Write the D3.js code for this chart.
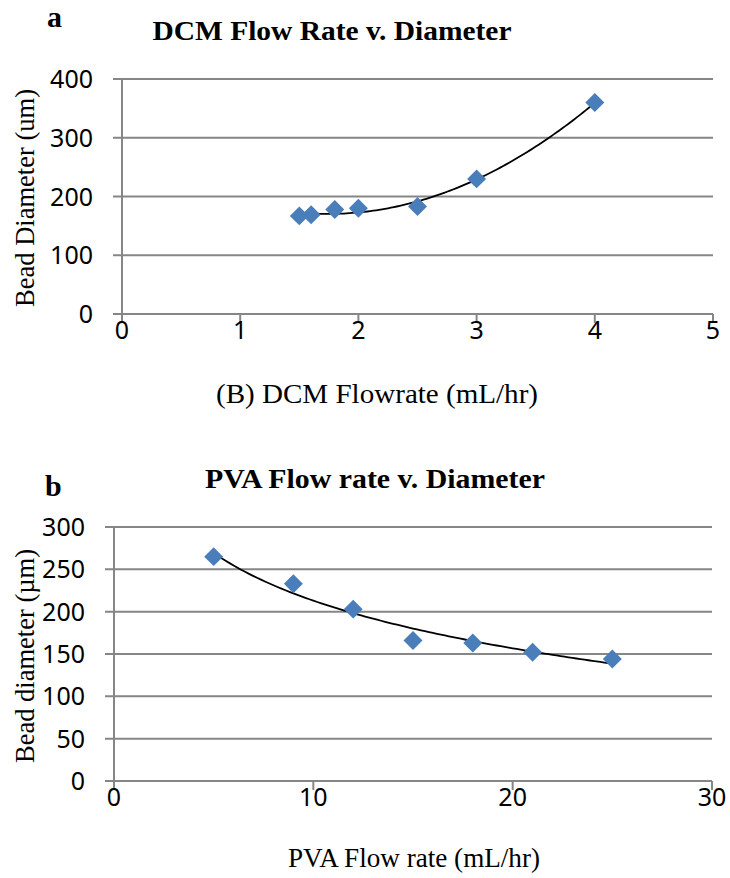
<!DOCTYPE html>
<html>
<head>
<meta charset="utf-8">
<script src="https://cdn.jsdelivr.net/npm/d3@7"></script>
<style>
  body { margin: 0; background: #fff; }
  #root { width: 730px; height: 878px; }
</style>
</head>
<body>
<div id="root"></div>
<script>
// panel a: DCM flow rate vs bead diameter
const dcmFlow = [1.5, 1.6, 1.8, 2.0, 2.5, 3.0, 4.0];
const dcmDiameter = [167, 169, 178, 180, 183, 230, 360];
const dcmXTicks = [0, 1, 2, 3, 4, 5];
const dcmYTicks = [0, 100, 200, 300, 400];

// panel b: PVA flow rate vs bead diameter
const pvaFlow = [5, 9, 12, 15, 18, 21, 25];
const pvaDiameter = [265, 233, 203, 166, 163, 152, 144];
const pvaXTicks = [0, 10, 20, 30];
const pvaYTicks = [0, 50, 100, 150, 200, 250, 300];

const gridColor = '#868686';
const markColor = '#4a7ebb';
const tickFont = '"Noto Sans", sans-serif';
const serifFont = '"Liberation Serif", "Times New Roman", serif';

const svg = d3.select('#root').append('svg')
  .attr('width', 730)
  .attr('height', 878);

drawPanel({
  letter: 'a', letterX: 47, letterY: 27,
  title: 'DCM Flow Rate v. Diameter', titleX: 332, titleY: 40, titleLen: 359,
  xLabel: '(B) DCM Flowrate (mL/hr)', xLabelX: 377, xLabelY: 403, xLabelLen: 322,
  yLabel: 'Bead Diameter (um)', yLabelX: 34, yLabelY: 198, yLabelLen: 218,
  x: d3.scaleLinear().domain([0, 5]).range([122, 713]),
  y: d3.scaleLinear().domain([0, 400]).range([314, 79]),
  xTicks: dcmXTicks, yTicks: dcmYTicks,
  xs: dcmFlow, ys: dcmDiameter,
  fit: quadFit(dcmFlow, dcmDiameter),
});

drawPanel({
  letter: 'b', letterX: 45, letterY: 496,
  title: 'PVA Flow rate v. Diameter', titleX: 375, titleY: 488, titleLen: 340,
  xLabel: 'PVA Flow rate (mL/hr)', xLabelX: 414, xLabelY: 867, xLabelLen: 252,
  yLabel: 'Bead diameter (µm)', yLabelX: 34, yLabelY: 656, yLabelLen: 214,
  x: d3.scaleLinear().domain([0, 30]).range([114, 712]),
  y: d3.scaleLinear().domain([0, 300]).range([781, 527]),
  xTicks: pvaXTicks, yTicks: pvaYTicks,
  xs: pvaFlow, ys: pvaDiameter,
  fit: logFit(pvaFlow, pvaDiameter),
});

function drawPanel(p) {
  const g = svg.append('g');
  const [x0, x1] = p.x.range();
  const [yb, yt] = p.y.range();

  // horizontal gridlines, starting with a small outward tick
  g.selectAll('.grid')
    .data(p.yTicks)
    .enter()
    .append('line')
      .attr('x1', x0 - 9)
      .attr('x2', x1)
      .attr('y1', (d) => p.y(d))
      .attr('y2', (d) => p.y(d))
      .attr('stroke', gridColor)
      .attr('stroke-width', 2);

  // vertical axis line
  g.append('line')
    .attr('x1', x0).attr('x2', x0)
    .attr('y1', yt).attr('y2', yb + 9)
    .attr('stroke', gridColor)
    .attr('stroke-width', 2);

  // x ticks below the axis
  g.selectAll('.xtick')
    .data(p.xTicks.slice(1))
    .enter()
    .append('line')
      .attr('x1', (d) => p.x(d))
      .attr('x2', (d) => p.x(d))
      .attr('y1', yb)
      .attr('y2', yb + 9)
      .attr('stroke', gridColor)
      .attr('stroke-width', 2);

  g.selectAll('.ylab')
    .data(p.yTicks)
    .enter()
    .append('text')
      .attr('x', x0 - 29)
      .attr('y', (d) => p.y(d))
      .attr('dy', '0.36em')
      .attr('text-anchor', 'end')
      .attr('font-family', tickFont)
      .attr('font-size', 25)
      .text((d) => d);

  g.selectAll('.xlab')
    .data(p.xTicks)
    .enter()
    .append('text')
      .attr('x', (d) => p.x(d))
      .attr('y', yb + 25)
      .attr('text-anchor', 'middle')
      .attr('font-family', tickFont)
      .attr('font-size', 25)
      .text((d) => d);

  // trendline
  const fx = d3.range(0, 101).map((i) => {
    const xv = d3.min(p.xs) + (d3.max(p.xs) - d3.min(p.xs)) * i / 100;
    return [xv, p.fit(xv)];
  });
  g.append('path')
    .attr('d', d3.line().x((d) => p.x(d[0])).y((d) => p.y(d[1]))(fx))
    .attr('fill', 'none')
    .attr('stroke', '#000')
    .attr('stroke-width', 1.8);

  // diamond markers
  const diamond = d3.symbol().type(d3.symbolSquare).size(180);
  g.selectAll('.pt')
    .data(p.xs.map((xv, i) => [xv, p.ys[i]]))
    .enter()
    .append('path')
      .attr('d', diamond)
      .attr('transform', (d) => 'translate(' + p.x(d[0]) + ',' + p.y(d[1]) + ') rotate(45)')
      .attr('fill', markColor);

  // texts
  g.append('text')
    .attr('x', p.letterX).attr('y', p.letterY)
    .attr('font-family', serifFont)
    .attr('font-weight', 'bold')
    .attr('font-size', 30)
    .text(p.letter);

  g.append('text')
    .attr('x', p.titleX - p.titleLen / 2).attr('y', p.titleY)
    .attr('font-family', serifFont)
    .attr('font-weight', 'bold')
    .attr('font-size', 27)
    .attr('textLength', p.titleLen)
    .attr('lengthAdjust', 'spacingAndGlyphs')
    .text(p.title);

  g.append('text')
    .attr('x', p.xLabelX - p.xLabelLen / 2).attr('y', p.xLabelY)
    .attr('font-family', serifFont)
    .attr('font-size', 27)
    .attr('textLength', p.xLabelLen)
    .attr('lengthAdjust', 'spacingAndGlyphs')
    .text(p.xLabel);

  g.append('text')
    .attr('transform', 'translate(' + p.yLabelX + ',' + (p.yLabelY + p.yLabelLen / 2) + ') rotate(-90)')
    .attr('font-family', serifFont)
    .attr('font-size', 27)
    .attr('textLength', p.yLabelLen)
    .attr('lengthAdjust', 'spacingAndGlyphs')
    .text(p.yLabel);
}

// least squares quadratic, as the spreadsheet trendline does
function quadFit(xs, ys) {
  const n = xs.length;
  let s1 = 0, s2 = 0, s3 = 0, s4 = 0, t0 = 0, t1 = 0, t2 = 0;
  for (let i = 0; i < n; i++) {
    const x = xs[i], y = ys[i];
    s1 += x; s2 += x * x; s3 += x * x * x; s4 += x * x * x * x;
    t0 += y; t1 += x * y; t2 += x * x * y;
  }
  const m = [[n, s1, s2, t0], [s1, s2, s3, t1], [s2, s3, s4, t2]];
  for (let c = 0; c < 3; c++) {
    for (let r = c + 1; r < 3; r++) {
      const f = m[r][c] / m[c][c];
      for (let k = c; k < 4; k++) m[r][k] -= f * m[c][k];
    }
  }
  const coef = [0, 0, 0];
  for (let r = 2; r >= 0; r--) {
    let s = m[r][3];
    for (let k = r + 1; k < 3; k++) s -= m[r][k] * coef[k];
    coef[r] = s / m[r][r];
  }
  return (x) => coef[0] + coef[1] * x + coef[2] * x * x;
}

// least squares y = a + b ln(x)
function logFit(xs, ys) {
  const lx = xs.map(Math.log);
  const mx = d3.mean(lx), my = d3.mean(ys);
  let sxy = 0, sxx = 0;
  for (let i = 0; i < xs.length; i++) {
    sxy += (lx[i] - mx) * (ys[i] - my);
    sxx += (lx[i] - mx) * (lx[i] - mx);
  }
  const b = sxy / sxx, a = my - b * mx;
  return (x) => a + b * Math.log(x);
}
</script>
</body>
</html>
